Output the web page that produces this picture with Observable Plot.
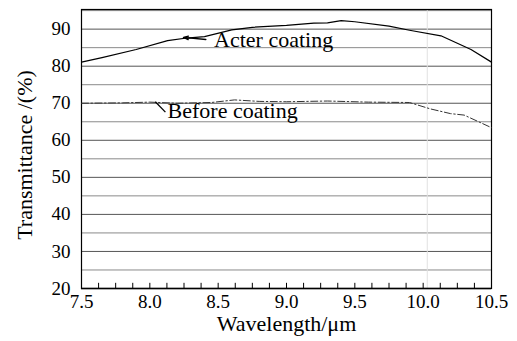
<!DOCTYPE html>
<html>
<head>
<meta charset="utf-8">
<script src="https://cdn.jsdelivr.net/npm/d3@7"></script>
<script src="https://cdn.jsdelivr.net/npm/@observablehq/plot@0.6"></script>
<style>
  html, body { margin: 0; padding: 0; background: #fff; }
  #chart svg { display: block; }
  #chart svg, #chart svg text { font-family: "Liberation Serif", "Times New Roman", serif !important; }
</style>
</head>
<body>
<div id="chart"></div>
<script>
// After coating
const afterWl  = [7.5, 7.65, 7.9, 8.13, 8.27, 8.4, 8.6, 8.75, 9.0, 9.2, 9.3, 9.4, 9.5, 9.75, 9.9, 10.13, 10.35, 10.5];
const afterT   = [81.1, 82.3, 84.5, 86.9, 87.6, 88.0, 89.8, 90.5, 91.0, 91.6, 91.7, 92.3, 92.0, 90.8, 89.7, 88.2, 84.5, 81.1];
// Before coating
const beforeWl = [7.5, 7.8, 8.0, 8.2, 8.45, 8.62, 8.8, 9.0, 9.3, 9.6, 9.9, 10.05, 10.2, 10.3, 10.5];
const beforeT  = [70.0, 70.1, 70.3, 70.0, 70.2, 70.9, 70.5, 70.4, 70.6, 70.3, 70.2, 68.5, 67.2, 66.8, 63.4];

const xTickLabels = [7.5, 8.0, 8.5, 9.0, 9.5, 10.0, 10.5];
const yTickLabels = [20, 30, 40, 50, 60, 70, 80, 90];
const yGridMajor = [30, 40, 50, 60, 70, 80, 90];
const yGridMinor = [25, 35, 45, 55, 65, 75, 85, 95];
const xMinorTicks = [7.625, 7.75, 7.875, 8.0, 8.125, 8.25, 8.375, 8.5, 8.625, 8.75, 8.875, 9.0, 9.125, 9.25, 9.375, 9.5, 9.625, 9.75, 9.875, 10.0, 10.125, 10.25, 10.375];

const xTitle = "Wavelength/μm";
const yTitle = "Transmittance /(%)";

// annotations: label text, label anchor, pointer tail and head
const labels = ["Acter coating", "Before coating"];
const labelX = [8.47, 8.13];
const labelY = [87.2, 68.0];
const tailX = [8.41, 8.114];
const tailY = [87.2, 67.6];
const headX = [8.246, 8.04];
const headY = [87.75, 70.4];

const afterData = afterWl.map((x, i) => ({x, y: afterT[i]}));
const beforeData = beforeWl.map((x, i) => ({x, y: beforeT[i]}));
const ann = labels.map((t, i) => ({t, x: labelX[i], y: labelY[i], x1: tailX[i], y1: tailY[i], x2: headX[i], y2: headY[i]}));

const font = "Liberation Serif, Times New Roman, serif";

const chart = Plot.plot({
  width: 517,
  height: 341,
  marginLeft: 81,
  marginRight: 26,
  marginTop: 9,
  marginBottom: 53,
  style: { fontFamily: font, fontSize: "19px", color: "#000", background: "#fff" },
  x: { domain: [7.5, 10.5] },
  y: { domain: [20, 95.3] },
  marks: [
    Plot.ruleY(yGridMinor, { stroke: "#8a8a8a", strokeWidth: 1 }),
    Plot.ruleY(yGridMajor, { stroke: "#555", strokeWidth: 1 }),
    Plot.ruleX([10.03], { stroke: "#e2e2e2", strokeWidth: 1 }),
    Plot.ruleX(xMinorTicks, { y1: 20, y2: 21.4, stroke: "#000", strokeWidth: 1 }),
    Plot.frame({ stroke: "#000", strokeWidth: 1.2 }),
    Plot.ruleY([20], { stroke: "#000", strokeWidth: 1.5 }),
    Plot.line(afterData, { x: "x", y: "y", stroke: "#000", strokeWidth: 1.2 }),
    Plot.line(beforeData, { x: "x", y: "y", stroke: "#333", strokeWidth: 1, strokeDasharray: "7,2.5,1.5,2.5" }),
    Plot.link(ann.slice(1), { x1: "x1", y1: "y1", x2: "x2", y2: "y2", stroke: "#000", strokeWidth: 1.3 }),
    Plot.arrow(ann.slice(0, 1), { x1: "x1", y1: "y1", x2: "x2", y2: "y2", stroke: "#000", strokeWidth: 1.3, headLength: 6, headAngle: 40 }),
    Plot.text(ann, { x: "x", y: "y", text: "t", textAnchor: "start", fontSize: 22, fill: "#000" }),
    Plot.axisX(xTickLabels, {
      tickSize: 0, tickPadding: 6, tickFormat: d3.format(".1f"),
      fontSize: 19, label: null
    }),
    Plot.axisY(yTickLabels, {
      tickSize: 0, tickPadding: 11, fontSize: 19, label: null
    }),
    Plot.text([xTitle], { frameAnchor: "bottom", lineAnchor: "middle", textAnchor: "middle", dy: 35, text: d => d, fontSize: 22, fill: "#000" }),
    Plot.text([yTitle], { frameAnchor: "left", lineAnchor: "middle", textAnchor: "middle", dx: -57, dy: 6, rotate: -90, text: d => d, fontSize: 22, fill: "#000" })
  ]
});
document.getElementById("chart").appendChild(chart);
</script>
</body>
</html>
